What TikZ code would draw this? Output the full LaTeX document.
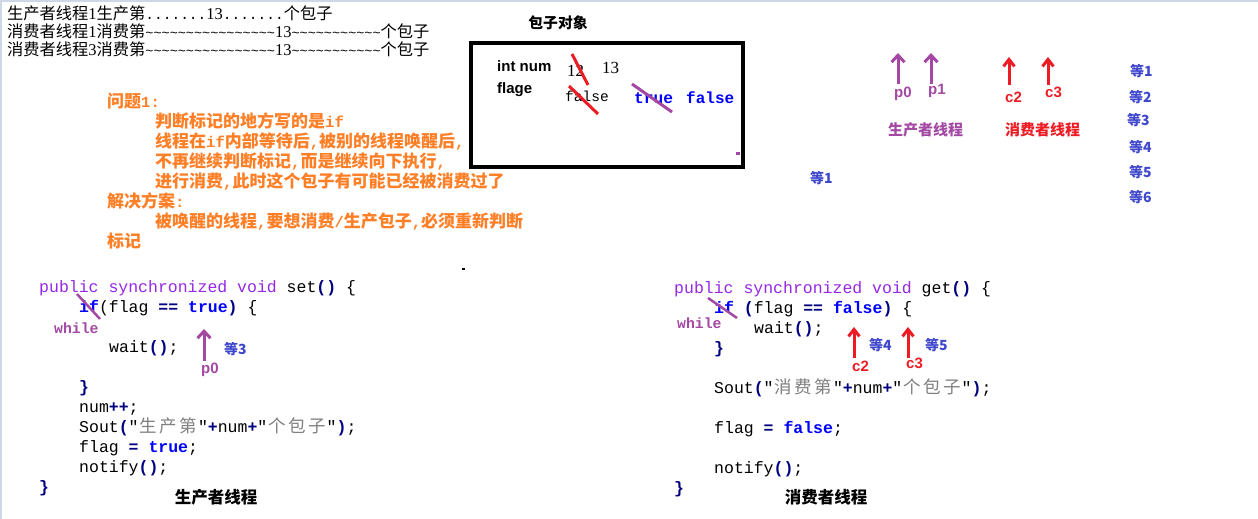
\documentclass[tikz,border=0pt]{standalone}
\usepackage{fontspec}
\usetikzlibrary{arrows.meta}
\newfontfamily\cjk{Noto Sans CJK SC}
\newfontfamily\mono{Liberation Mono}
\newfontfamily\sansf{Liberation Sans}
\newfontfamily\seriff{Liberation Serif}
\definecolor{kwpurple}{RGB}{150,40,230}
\definecolor{mspurple}{RGB}{163,73,164}
\definecolor{msred}{RGB}{237,28,36}
\definecolor{msorange}{RGB}{255,127,39}
\definecolor{msblue}{RGB}{63,72,204}
\definecolor{navyc}{RGB}{0,0,128}
\definecolor{strgray}{RGB}{128,128,128}
\definecolor{edgec}{RGB}{205,215,230}
\newcommand\kwd[1]{{\color{kwpurple}#1}}
\newcommand\bkw[1]{{\bfseries\color{blue}#1}}
\newcommand\pa[1]{{\bfseries\color{navyc}#1}}
\newcommand\opr[1]{{\bfseries\color{navyc}#1}}
\newcommand\zh[1]{\makebox[19.8pt]{\cjk\fontsize{17.5}{20}\selectfont\color{strgray}#1}}
\newcommand\tl[1]{{\mono\fontsize{13.5}{20}\selectfont #1}}
\newcommand\dts[1]{{\mono\fontsize{14.5}{20}\selectfont #1}}
\newcommand\dg[1]{{\seriff\fontsize{16.5}{20}\selectfont #1}}
\newcommand\asc[1]{{\mono\fontsize{15.5}{20}\selectfont\bfseries #1}}
\newcommand\tld{\string~}
\newcommand\tlds[1]{\tl{\foreach \i in {1,...,#1}{\tld}}}
\tikzset{
  topline/.style={anchor=base west, inner sep=0, font=\cjk\fontsize{16.25}{20}\selectfont},
  orangetxt/.style={anchor=base west, inner sep=0, text=msorange, font=\cjk\bfseries\fontsize{17}{20}\selectfont},
  code/.style={anchor=base west, inner sep=0, font=\mono\fontsize{16.5}{20}\selectfont},
  whiletxt/.style={anchor=base west, inner sep=0, text=mspurple, font=\mono\bfseries\fontsize{14.8}{20}\selectfont},
  dengtxt/.style={anchor=base west, inner sep=0, text=msblue, font=\cjk\bfseries\fontsize{14}{20}\selectfont},
  plabel/.style={anchor=base west, inner sep=0, text=mspurple, font=\sansf\bfseries\fontsize{15}{20}\selectfont},
  clabel/.style={anchor=base west, inner sep=0, text=msred, font=\sansf\bfseries\fontsize{15}{20}\selectfont},
  thrtitle/.style={anchor=base, inner sep=0, font=\cjk\bfseries\fontsize{16.5}{20}\selectfont},
  parrow/.style={draw=mspurple, line width=3pt, -{Straight Barb[length=7pt,width=13pt]}},
  carrow/.style={draw=msred, line width=3pt, -{Straight Barb[length=7pt,width=11pt]}},
  redstrike/.style={draw=msred, line width=3pt},
  purstrike/.style={draw=mspurple, line width=3pt},
  fieldtxt/.style={anchor=base west, inner sep=0, font=\sansf\bfseries\fontsize{15}{20}\selectfont},
}
\begin{document}
\begin{tikzpicture}[x=1pt,y=-1pt]
\useasboundingbox (0,0) rectangle (1258,519);
\fill[white] (0,0) rectangle (1258,519);
\fill[edgec] (0,0) rectangle (1258,2);
\fill[edgec] (0,0) rectangle (2,519);

% top-left console lines
\node[topline] (t1) at (7,20) {生产者线程\dg{1}生产第\dts{.......}\dg{13}\dts{.......}个包子};
\node[topline] (t2) at (7,38) {消费者线程\dg{1}消费第\tl{\tld\tld\tld\tld\tld\tld\tld\tld\tld\tld\tld\tld\tld\tld\tld\tld}\dg{13}\tl{\tld\tld\tld\tld\tld\tld\tld\tld\tld\tld\tld}个包子};
\node[topline] (t3) at (7,56) {消费者线程\dg{3}消费第\tl{\tld\tld\tld\tld\tld\tld\tld\tld\tld\tld\tld\tld\tld\tld\tld\tld}\dg{13}\tl{\tld\tld\tld\tld\tld\tld\tld\tld\tld\tld\tld}个包子};

% orange explanation
\node[orangetxt] (o1) at (107,107) {问题\asc{1:}};
\node[orangetxt] (o2) at (155,127) {判断标记的地方写的是\asc{if}};
\node[orangetxt] (o3) at (155,147) {线程在\asc{if}内部等待后\asc{,}被别的线程唤醒后\asc{,}};
\node[orangetxt] (o4) at (155,167) {不再继续判断标记\asc{,}而是继续向下执行\asc{,}};
\node[orangetxt] (o5) at (155,187) {进行消费\asc{,}此时这个包子有可能已经被消费过了};
\node[orangetxt] (o6) at (107,207) {解决方案\asc{:}};
\node[orangetxt] (o7) at (155,227) {被唤醒的线程\asc{,}要想消费\asc{/}生产包子\asc{,}必须重新判断};
\node[orangetxt] (o8) at (107,247) {标记};

% object box
\node[anchor=base, inner sep=0, font=\cjk\bfseries\fontsize{14.8}{20}\selectfont] (boxtitle) at (558,29) {包子对象};
\draw[line width=3.3pt] (471,43) rectangle (743,167);
\node[fieldtxt] (intnum) at (497,72) {int num};
\node[fieldtxt] (flage) at (497,93) {flage};
\node[anchor=base west, inner sep=0, font=\seriff\fontsize{17}{20}\selectfont] (n12) at (567,77) {12};
\node[anchor=base west, inner sep=0, font=\seriff\fontsize{17}{20}\selectfont] (n13) at (602,74) {13};
\node[anchor=base west, inner sep=0, font=\mono\fontsize{14.5}{20}\selectfont] (fls1) at (565,101) {false};
\node[anchor=base west, inner sep=0, text=blue, font=\mono\bfseries\fontsize{16.2}{20}\selectfont] (tru) at (634,103) {true};
\node[anchor=base west, inner sep=0, text=blue, font=\mono\bfseries\fontsize{16}{20}\selectfont] (fls2) at (686,103) {false};
\coordinate (s1a) at (572,54); \coordinate (s1b) at (588,85);
\coordinate (s2a) at (569,86); \coordinate (s2b) at (598,114);
\coordinate (s3a) at (632,84); \coordinate (s3b) at (672,112);
\draw[redstrike] (s1a) -- (s1b);
\draw[redstrike] (s2a) -- (s2b);
\draw[purstrike] (s3a) -- (s3b);
\fill[mspurple] (736,152) rectangle (740,155);

% top-right thread pointers
\coordinate (tp0b) at (898,84); \coordinate (tp0t) at (898,53);
\coordinate (tp1b) at (931,84); \coordinate (tp1t) at (931,53);
\coordinate (tc2b) at (1009,85); \coordinate (tc2t) at (1009,57);
\coordinate (tc3b) at (1048,85); \coordinate (tc3t) at (1048,57);
\draw[parrow] (tp0b) -- (tp0t);
\draw[parrow] (tp1b) -- (tp1t);
\draw[carrow] (tc2b) -- (tc2t);
\draw[carrow] (tc3b) -- (tc3t);
\node[plabel] (lp0) at (894,97) {p0};
\node[plabel] (lp1) at (928,95) {p1};
\node[clabel] (lc2) at (1005,102) {c2};
\node[clabel] (lc3) at (1045,97) {c3};
\node[anchor=base west, inner sep=0, text=mspurple, font=\cjk\bfseries\fontsize{15}{20}\selectfont] (prodt) at (888,135) {生产者线程};
\node[anchor=base west, inner sep=0, text=msred, font=\cjk\bfseries\fontsize{15}{20}\selectfont] (const) at (1005,135) {消费者线程};

% waiting list
\node[dengtxt] (d1) at (1130,77) {等1};
\node[dengtxt] (d2) at (1129,102) {等2};
\node[dengtxt] (d3) at (1127,125) {等3};
\node[dengtxt] (d4) at (1129,152) {等4};
\node[dengtxt] (d5) at (1129,177) {等5};
\node[dengtxt] (d6) at (1129,202) {等6};
\node[dengtxt] (dm) at (810,183) {等1};

\fill (462,268) rectangle (465,270);

% producer code
\node[code] (L1) at (39,292) {\kwd{public synchronized void} set\pa{()} \{};
\node[code] (L2) at (79,312) {\bkw{if}(flag \opr{==} \bkw{true}\pa{)} \{};
\node[whiletxt] (Lw) at (54,333) {while};
\node[code] (L3) at (109,352) {wait\pa{()};};
\node[code] (L4) at (79,392) {\pa{\}}};
\node[code] (L5) at (79,412) {num\opr{++};};
\node[code] (L6) at (79,432) {Sout\pa{(}"\zh{生}\zh{产}\zh{第}"\opr{+}num\opr{+}"\zh{个}\zh{包}\zh{子}"\pa{)};};
\node[code] (L7) at (79,452) {flag \opr{=} \bkw{true};};
\node[code] (L8) at (79,472) {notify\pa{()};};
\node[code] (L9) at (39,492) {\pa{\}}};
\node[thrtitle] (Lt) at (216,503) {生产者线程};
\coordinate (lsa) at (77,294); \coordinate (lsb) at (100,319);
\draw[purstrike, line width=2.5pt] (lsa) -- (lsb);
\coordinate (la0b) at (204,361); \coordinate (la0t) at (204,329);
\draw[parrow] (la0b) -- (la0t);
\node[plabel] (llp0) at (201,373) {p0};
\node[dengtxt] (ld3) at (224,354) {等3};

% consumer code
\node[code] (R1) at (674,293) {\kwd{public synchronized void} get\pa{()} \{};
\node[code] (R2) at (714,313) {\bkw{if} \pa{(}flag \opr{==} \bkw{false}\pa{)} \{};
\node[whiletxt] (Rw) at (677,328) {while};
\node[code] (R3) at (754,333) {wait\pa{()};};
\node[code] (R4) at (714,353) {\pa{\}}};
\node[code] (R5) at (714,393) {Sout\pa{(}"\zh{消}\zh{费}\zh{第}"\opr{+}num\opr{+}"\zh{个}\zh{包}\zh{子}"\pa{)};};
\node[code] (R6) at (714,433) {flag \opr{=} \bkw{false};};
\node[code] (R7) at (714,473) {notify\pa{()};};
\node[code] (R8) at (674,493) {\pa{\}}};
\node[thrtitle] (Rt) at (826,503) {消费者线程};
\coordinate (rsa) at (708,298); \coordinate (rsb) at (737,318);
\draw[purstrike, line width=2.5pt] (rsa) -- (rsb);
\coordinate (ra2b) at (854,358); \coordinate (ra2t) at (854,327);
\coordinate (ra3b) at (908,358); \coordinate (ra3t) at (908,327);
\draw[carrow] (ra2b) -- (ra2t);
\draw[carrow] (ra3b) -- (ra3t);
\node[clabel] (rc2) at (852,371) {c2};
\node[clabel] (rc3) at (906,368) {c3};
\node[dengtxt] (rd4) at (869,350) {等4};
\node[dengtxt] (rd5) at (925,350) {等5};
\end{tikzpicture}
\end{document}
